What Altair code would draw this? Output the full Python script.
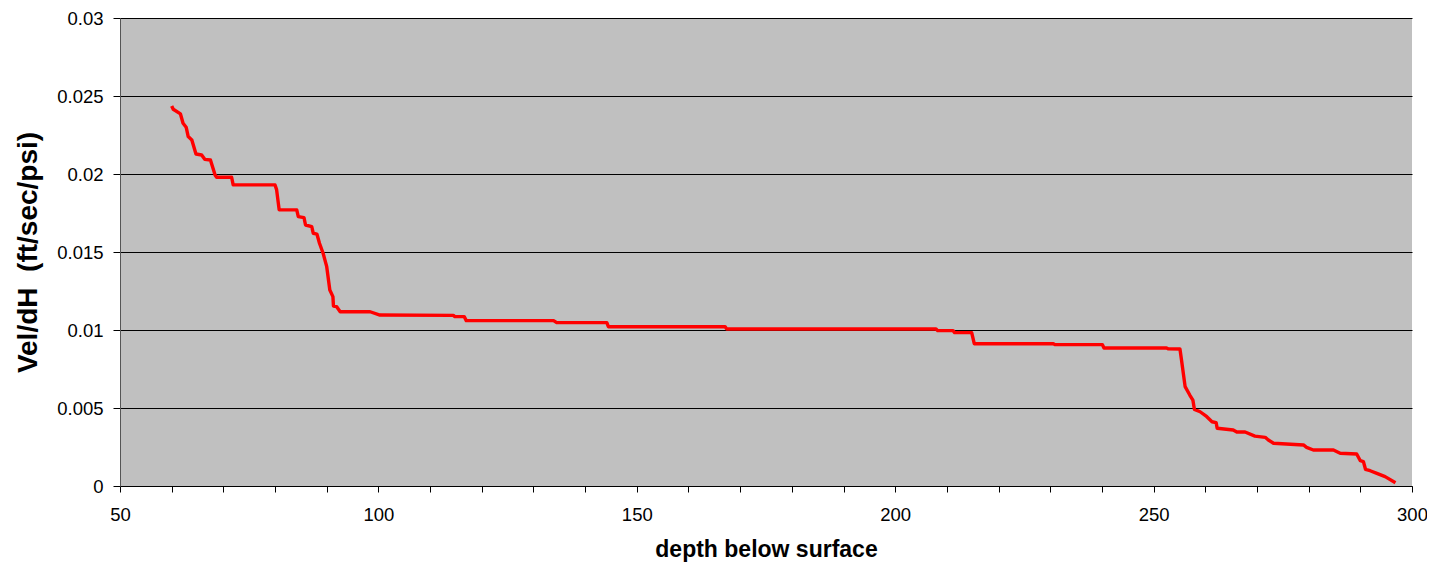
import altair as alt
import pandas as pd

depth = [60.0, 60.3, 61.7, 62.2, 62.8, 63.2, 63.9, 64.7, 65.8, 66.4, 67.5, 68.4, 68.7,
         71.6, 71.9, 80.0, 80.3, 80.8, 84.2, 84.5, 85.6, 85.9, 87.1, 87.4, 88.1, 88.6,
         89.3, 90.0, 90.6, 91.2, 91.3, 91.9, 92.6, 98.4, 100.3, 114.5, 114.8, 116.6,
         117.0, 133.9, 134.5, 144.2, 144.5, 167.1, 167.4, 207.9, 208.2, 211.2, 211.5,
         214.8, 215.3, 230.6, 230.9, 240.1, 240.4, 252.5, 252.8, 255.1, 255.4, 256.1,
         257.0, 257.6, 257.9, 259.0, 260.3, 261.3, 262.1, 262.3, 265.4, 266.1, 267.7,
         269.6, 271.6, 272.2, 273.2, 279.0, 279.6, 280.9, 284.8, 286.1, 289.3, 290.0,
         290.6, 291.0, 291.9, 293.2, 294.8, 296.8]
vel = [0.02436, 0.02415, 0.02385, 0.02325, 0.0230, 0.0224, 0.02218, 0.02128, 0.02122,
       0.02094, 0.0209, 0.01994, 0.01979, 0.01979, 0.0193, 0.0193, 0.0190, 0.0177, 0.0177,
       0.01727, 0.0172, 0.01673, 0.01662, 0.0162, 0.01615, 0.01556, 0.01492, 0.01406,
       0.01256, 0.01214, 0.01154, 0.0115, 0.01117, 0.01117, 0.01096, 0.01094, 0.01086,
       0.01086, 0.0106, 0.0106, 0.01047, 0.01047, 0.01021, 0.01021, 0.01006, 0.01006,
       0.00996, 0.00996, 0.00983, 0.00983, 0.00912, 0.00912, 0.00906, 0.00906, 0.00885,
       0.00885, 0.00880, 0.00878, 0.00808, 0.00637, 0.00583, 0.00551, 0.00491, 0.00476,
       0.00444, 0.00412, 0.00406, 0.0037, 0.00359, 0.00346, 0.00346, 0.0032, 0.00312,
       0.00295, 0.00274, 0.00263, 0.00248, 0.00231, 0.00231, 0.0021, 0.00205, 0.00162,
       0.00156, 0.00107, 0.00098, 0.00081, 0.0006, 0.00021]

x_ticks = list(range(50, 301, 10))
y_ticks = [0, 0.005, 0.01, 0.015, 0.02, 0.025, 0.03]

df = pd.DataFrame({"depth": depth, "vel": vel})

FONT = "Liberation Sans"
W, H = 1292, 468

chart = alt.Chart(df).mark_line(color="#FF0000", strokeWidth=3.4, strokeJoin="round").encode(
    x=alt.X("depth:Q", scale=alt.Scale(domain=[50, 300], nice=False, zero=False),
            axis=alt.Axis(values=x_ticks, grid=False,
                          labelExpr="datum.value % 50 == 0 ? datum.label : ''",
                          title="depth below surface", titleFontSize=23, titleFontWeight="bold",
                          titleX=W / 2, titleY=63, titleBaseline="middle", titleAlign="center",
                          labelFontSize=18.5, labelPadding=13, tickSize=6,
                          tickColor="#000000", domainColor="#000000", labelColor="#000000",
                          titleColor="#000000", labelFlush=False)),
    y=alt.Y("vel:Q", scale=alt.Scale(domain=[0, 0.03], nice=False),
            axis=alt.Axis(values=y_ticks, format="~g", grid=True, gridColor="#000000",
                          gridWidth=1, gridOpacity=1,
                          title="Vel/dH \u00a0(ft/sec/psi)", titleFontSize=28,
                          titleFontWeight="bold", titleAngle=270, titleX=-92, titleY=H / 2,
                          titleBaseline="middle", titleAlign="center",
                          labelFontSize=18.5, labelPadding=10, tickSize=7,
                          tickColor="#000000", domainColor="#555555", labelColor="#000000",
                          titleColor="#000000", labelFlush=False)),
).properties(
    width=W, height=H,
    background="white",
    autosize=alt.AutoSizeParams(type="none"),
    padding={"left": 112, "top": 10, "right": 15, "bottom": 78},
).configure_view(
    fill="#C0C0C0", stroke=None
).configure_axis(
    labelFont=FONT, titleFont=FONT
)

chart.save("out.html", embed_options={"renderer": "svg", "actions": False})
